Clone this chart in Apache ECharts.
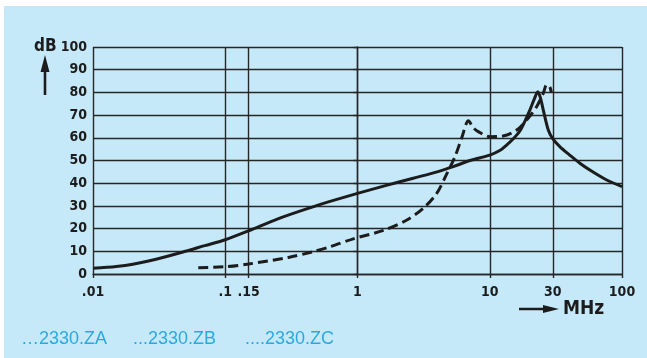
<!DOCTYPE html>
<html>
<head>
<meta charset="utf-8">
<script src="https://cdn.jsdelivr.net/npm/echarts@6/dist/echarts.min.js"></script>
<style>
html,body{margin:0;padding:0;background:#fff;}
#chart{width:647px;height:358px;}
</style>
</head>
<body>
<div id="chart"></div>
<script>
// frequency ticks (MHz) and their printed labels
var freqTicks = [0.01, 0.1, 0.15, 1, 10, 30, 100];
var tickLabels = ['.01', '.1', '.15', '1', '10', '30', '100'];

// solid curve
var solidFreq = [0.01, 0.015, 0.02, 0.03, 0.05, 0.07, 0.1, 0.15, 0.25, 0.46, 0.62, 1, 1.6, 2.64, 4, 5.3, 7.1, 10, 12, 13.4, 15, 16.9, 18.5, 20.1, 21.7, 23.1, 24.2, 25.4, 27.7, 30, 34, 40, 48, 60, 76.6, 100];
var solidDb = [2.5, 3.3, 4.3, 6.5, 10, 12.5, 15.1, 19, 24.3, 29.6, 32, 35.5, 38.8, 42.2, 45, 47.3, 50, 52.4, 54.5, 56.8, 59.5, 63, 67.5, 72.2, 77, 80.3, 77.5, 72.2, 63.4, 59.5, 56, 52.5, 48.8, 45, 41.4, 38.5];

// dashed curve
var dashFreq = [0.0625, 0.1, 0.15, 0.3, 0.46, 0.62, 0.93, 1.57, 2.36, 3.15, 3.97, 4.72, 5.46, 6.14, 6.9, 7.5, 8.19, 10, 12.6, 16, 19, 22.6, 25.4, 26.9, 28.4, 29.2];
var dashDb = [2.8, 3.2, 4.4, 7.3, 9.8, 12, 15.5, 19.2, 23.8, 29, 35.5, 44, 51.7, 60, 67.5, 64.5, 62.7, 60.5, 60.8, 63.4, 67.8, 73.7, 79.6, 83.3, 82.5, 80];

var tickLogs = freqTicks.map(function (f) { return Math.log10(f) })

function toPairs(fs, ds) {
    return fs.map(function (f, i) { return [Math.log10(f), ds[i]] })
}

var ink = '#1c1c1c'
var grid = '#262626'
var narrow = "'Liberation Sans Narrow', 'DejaVu Sans Condensed', sans-serif"

var chart = echarts.init(document.getElementById('chart'))
chart.setOption({
    animation: false,
    grid: { left: 93, right: 25, top: 47, bottom: 84 },
    xAxis: {
        type: 'value',
        min: -2,
        max: 2,
        axisLine: { lineStyle: { color: grid, width: 1.4 } },
        axisTick: { customValues: tickLogs, length: 4, lineStyle: { color: grid, width: 1.4 } },
        splitLine: { show: true, lineStyle: { color: grid, width: 1.4 } },
        axisLabel: {
            customValues: tickLogs,
            margin: 11,
            color: ink,
            fontFamily: narrow,
            fontWeight: 'bold',
            fontSize: 14,
            formatter: function (v) {
                var best = 0
                for (var i = 1; i < tickLogs.length; i++) {
                    if (Math.abs(tickLogs[i] - v) < Math.abs(tickLogs[best] - v)) best = i
                }
                return tickLabels[best]
            }
        }
    },
    yAxis: {
        type: 'value',
        min: 0,
        max: 100,
        interval: 10,
        axisLine: { show: true, lineStyle: { color: grid, width: 1.4 } },
        axisTick: { show: true, length: 4, lineStyle: { color: grid, width: 1.4 } },
        splitLine: { show: true, lineStyle: { color: grid, width: 1.4 } },
        axisLabel: { margin: 6, color: ink, fontFamily: narrow, fontWeight: 'bold', fontSize: 14 }
    },
    series: [
        {
            type: 'line',
            data: toPairs(solidFreq, solidDb),
            showSymbol: false,
            smooth: 0.3,
            lineStyle: { color: ink, width: 3 }
        },
        {
            type: 'line',
            data: toPairs(dashFreq, dashDb),
            showSymbol: false,
            smooth: 0.3,
            lineStyle: { color: ink, width: 3, type: [10, 5] }
        }
    ],
    graphic: [
        { type: 'rect', z: -100, silent: true, shape: { x: 4, y: 6, width: 643, height: 352 }, style: { fill: '#c6e9f9' } },
        { type: 'text', x: 34, y: 47, style: { text: 'dB', font: 'bold 17px ' + narrow, fill: ink, verticalAlign: 'middle' } },
        { type: 'polygon', shape: { points: [[45, 55], [49.5, 72], [46.3, 72], [46.3, 95], [43.7, 95], [43.7, 72], [40.5, 72]] }, style: { fill: ink } },
        { type: 'polygon', shape: { points: [[519, 307.8], [543, 307.8], [543, 305], [559, 309], [543, 313], [543, 310.2], [519, 310.2]] }, style: { fill: ink } },
        { type: 'text', x: 563, y: 309, style: { text: 'MHz', font: 'bold 19px ' + narrow, fill: ink, verticalAlign: 'middle' } },
        { type: 'text', x: 21, y: 339, style: { text: '\u20262330.ZA', font: '18px "Liberation Sans", Arial, sans-serif', fill: '#2aa9e0', verticalAlign: 'middle' } },
        { type: 'text', x: 133, y: 339, style: { text: '...2330.ZB', font: '18px "Liberation Sans", Arial, sans-serif', fill: '#2aa9e0', verticalAlign: 'middle' } },
        { type: 'text', x: 245, y: 339, style: { text: '....2330.ZC', font: '18px "Liberation Sans", Arial, sans-serif', fill: '#2aa9e0', verticalAlign: 'middle' } }
    ]
})
</script>
</body>
</html>
